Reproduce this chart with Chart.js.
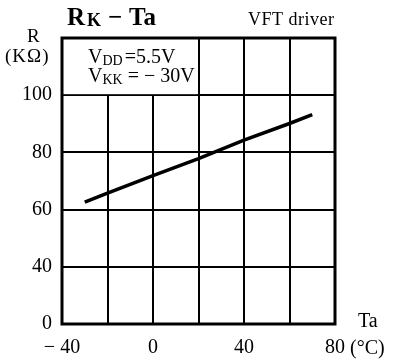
<!DOCTYPE html>
<html>
<head>
<meta charset="utf-8">
<script src="https://cdn.jsdelivr.net/npm/chart.js@4.4.0/dist/chart.umd.min.js"></script>
<style>
  html, body { margin: 0; padding: 0; background: #fff; }
  #wrap { position: relative; width: 397px; height: 360px; }
</style>
</head>
<body>
<div id="wrap"><canvas id="rk"></canvas></div>
<script>
// R_K against ambient temperature
const taPoints = [-30, -20, 0, 20, 40, 60, 70];
const rkValues = [62.6, 65.8, 71.9, 77.8, 84.3, 90.1, 93.2];

// axis ticks (bottom row of the R axis is a broken 0..40 span)
const xTicks = [-40, -20, 0, 20, 40, 60, 80];
const xTickLabels = ['\u2212 40', '', '0', '', '40', '', '80'];
const yTicks = [20, 40, 60, 80, 100, 120];
const yTickLabels = ['0', '40', '60', '80', '100', ''];

const SERIF = '"Liberation Serif", "DejaVu Serif", serif';

// draws a main letter followed by a lowered subscript, returns the end x
function subText(ctx, x, y, main, sub, size, subSize, drop) {
  ctx.font = size + 'px ' + SERIF;
  ctx.fillText(main, x, y);
  x += ctx.measureText(main).width;
  ctx.font = subSize + 'px ' + SERIF;
  ctx.fillText(sub, x, y + drop);
  return x + ctx.measureText(sub).width;
}

const decorations = {
  id: 'decorations',
  beforeDatasetsDraw(chart) {
    const { ctx, chartArea, scales } = chart;
    const xr = scales.x.getPixelForValue(20);
    const yb = scales.y.getPixelForValue(100);
    // condition box in the upper-left cell block
    ctx.save();
    ctx.fillStyle = '#fff';
    ctx.fillRect(chartArea.left + 1, chartArea.top + 1, xr - chartArea.left - 2, yb - chartArea.top - 2);
    ctx.fillStyle = '#000';
    ctx.textBaseline = 'alphabetic';
    let x = subText(ctx, 88, 63, 'V', 'DD', 20, 14, 2);
    ctx.font = '20px ' + SERIF;
    ctx.fillText('=5.5V', x + 2, 63);
    x = subText(ctx, 88, 82, 'V', 'KK', 20, 14, 2);
    ctx.font = '20px ' + SERIF;
    ctx.fillText(' = \u2212 30V', x, 82);
    ctx.restore();
  },
  afterDraw(chart) {
    const { ctx, chartArea } = chart;
    ctx.save();
    // outer frame
    ctx.strokeStyle = '#000';
    ctx.lineWidth = 3;
    ctx.strokeRect(chartArea.left, chartArea.top, chartArea.right - chartArea.left, chartArea.bottom - chartArea.top);

    ctx.fillStyle = '#000';
    ctx.textBaseline = 'alphabetic';
    // title, spread out
    ctx.font = 'bold 25px ' + SERIF;
    ctx.fillText('R', 67, 25);
    ctx.font = 'bold 18px ' + SERIF;
    ctx.fillText('K', 87, 26);
    ctx.font = 'bold 25px ' + SERIF;
    ctx.fillText('\u2212', 108, 25);
    ctx.fillText('Ta', 129, 25);
    ctx.font = '18px ' + SERIF;
    ctx.letterSpacing = '0.5px';
    ctx.fillText('VFT driver', 248, 25);
    // axis names
    ctx.letterSpacing = '1px';
    ctx.font = '19px ' + SERIF;
    ctx.fillText('R', 27, 42);
    ctx.fillText('(K\u03A9)', 5, 62);
    ctx.letterSpacing = '0px';
    ctx.font = '20px ' + SERIF;
    ctx.fillText('Ta', 358, 327);
    ctx.fillText('(\u00B0C)', 350, 354);
    ctx.restore();
  }
};

new Chart(document.getElementById('rk'), {
  type: 'line',
  data: {
    datasets: [{
      data: taPoints.map((t, i) => ({ x: t, y: rkValues[i] })),
      borderColor: '#000',
      borderWidth: 3.5,
      pointRadius: 0,
      tension: 0,
      fill: false
    }]
  },
  options: {
    responsive: true,
    maintainAspectRatio: false,
    animation: false,
    layout: { padding: { left: 0, top: 38, right: 62, bottom: 0 } },
    plugins: { legend: { display: false }, tooltip: { enabled: false } },
    scales: {
      x: {
        type: 'linear',
        min: xTicks[0],
        max: xTicks[xTicks.length - 1],
        afterFit(scale) { scale.height = 36; },
        afterBuildTicks(scale) { scale.ticks = xTicks.map(v => ({ value: v })); },
        grid: { color: '#000', lineWidth: 2, drawTicks: false },
        border: { display: false },
        ticks: {
          padding: 12,
          maxRotation: 0,
          autoSkip: false,
          color: '#000',
          font: { family: SERIF, size: 20 },
          callback: v => xTickLabels[xTicks.indexOf(v)] ?? ''
        }
      },
      y: {
        type: 'linear',
        min: yTicks[0],
        max: yTicks[yTicks.length - 1],
        afterFit(scale) { scale.width = 62; },
        afterBuildTicks(scale) { scale.ticks = yTicks.map(v => ({ value: v })); },
        grid: { color: '#000', lineWidth: 2, drawTicks: false },
        border: { display: false },
        ticks: {
          padding: 10,
          autoSkip: false,
          color: '#000',
          font: { family: SERIF, size: 20 },
          callback: v => yTickLabels[yTicks.indexOf(v)] ?? ''
        }
      }
    }
  },
  plugins: [decorations]
});
</script>
</body>
</html>
